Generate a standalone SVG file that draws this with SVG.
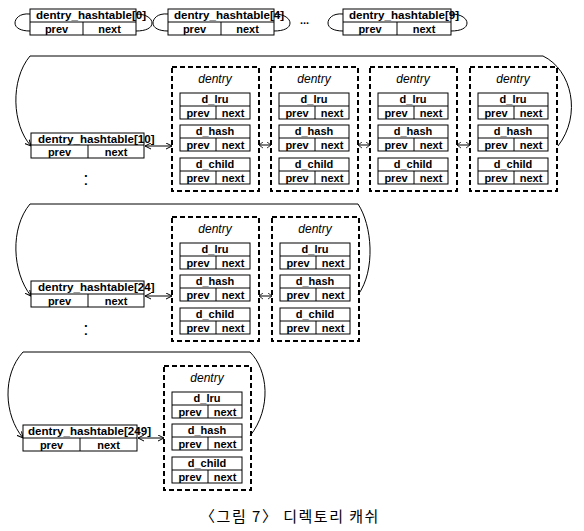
<svg xmlns="http://www.w3.org/2000/svg" width="584" height="531" viewBox="0 0 584 531">
<style>
.bx{fill:#fff;stroke:#000;stroke-width:1}
.dash{fill:none;stroke:#000;stroke-width:2;stroke-dasharray:5,3}
.t{font-family:"Liberation Sans",Arial,sans-serif;font-size:11px;font-weight:bold;fill:#000}
.h{font-size:11.6px}
.c{text-anchor:middle}
.it{font-family:"Liberation Sans",Arial,sans-serif;font-size:12px;font-style:italic;fill:#000;text-anchor:middle}
.dots{font-family:"Liberation Sans",Arial,sans-serif;font-size:19px;font-weight:normal;fill:#000;text-anchor:middle}
.ln{fill:none;stroke:#000;stroke-width:1}
.ar{fill:none;stroke:#000;stroke-width:1;marker-end:url(#ah)}
.dar{fill:none;stroke:#000;stroke-width:1;marker-end:url(#ah);marker-start:url(#ah)}
.sar{fill:none;stroke:#000;stroke-width:1;marker-end:url(#ahs);marker-start:url(#ahs)}
.cap{font-family:"Noto Sans CJK KR",sans-serif;font-size:15px;fill:#000;text-anchor:middle}
</style>
<defs>
<marker id="ah" markerWidth="7" markerHeight="7" refX="6" refY="3.5" orient="auto-start-reverse" markerUnits="userSpaceOnUse">
<path d="M0,0.5 L6,3.5 L0,6.5" fill="none" stroke="#000" stroke-width="1"/>
</marker>
<marker id="ahs" markerWidth="5" markerHeight="7" refX="4" refY="3.5" orient="auto-start-reverse" markerUnits="userSpaceOnUse">
<path d="M0,0.5 L4,3.5 L0,6.5" fill="none" stroke="#000" stroke-width="0.8"/>
</marker>
<g id="inner">
<rect class="bx" x="0" y="0" width="70" height="26"/>
<line class="ln" x1="0" y1="13" x2="70" y2="13"/>
<line class="ln" x1="36" y1="13" x2="36" y2="26"/>
<text class="t c" x="18" y="23.5">prev</text>
<text class="t c" x="53" y="23.5">next</text>
</g>
<g id="dentry">
<rect class="dash" x="0" y="0" width="87" height="124"/>
<text class="it" x="43" y="16">dentry</text>
<use href="#inner" x="8" y="26"/>
<text class="t c" x="43" y="35.5">d_lru</text>
<use href="#inner" x="8" y="58"/>
<text class="t c" x="43" y="67.5">d_hash</text>
<use href="#inner" x="8" y="91"/>
<text class="t c" x="43" y="100.5">d_child</text>
</g>
</defs>
<rect width="584" height="531" fill="#fff"/>

<g id="connectors">
<path class="ln" d="M30,14 C19,13 15,19 15,23 C15,28 21,31 30,31"/>
<path class="ln" d="M136,14 C147,14 152,19 152,23 C152,28 146,31 136,31"/>
<path class="ln" d="M168,14 C157,13 153,19 153,23 C153,28 159,31 168,31"/>
<path class="ln" d="M274,14 C285,14 290,19 290,23 C290,28 284,31 274,31"/>
<path class="ln" d="M343,14 C332,13 328,19 328,23 C328,28 334,31 343,31"/>
<path class="ln" d="M451,14 C462,14 467,19 467,23 C467,28 461,31 451,31"/>
<path class="ar" d="M558,146 C582,115 572,70 543,56 L30,56 C10,80 12,125 31,146"/>
<line class="dar" x1="145" y1="146" x2="172" y2="146"/>
<line class="sar" x1="259" y1="145" x2="271" y2="145"/>
<line class="sar" x1="358" y1="145" x2="370" y2="145"/>
<line class="sar" x1="457" y1="145" x2="470" y2="145"/>
<path class="ar" d="M358,295 C376,270 372,225 358,204 L30,204 C10,228 12,272 31,296"/>
<line class="dar" x1="145" y1="296" x2="172" y2="296"/>
<line class="sar" x1="259" y1="296" x2="272" y2="296"/>
<path class="ar" d="M250,436 C272,408 268,370 250,352 L23,352 C2,375 4,415 23,438"/>
<line class="dar" x1="138" y1="438" x2="164" y2="438"/>
</g>

<g id="ht0">
<rect class="bx" x="30" y="9" width="106" height="26"/>
<line class="ln" x1="30" y1="22" x2="136" y2="22"/>
<line class="ln" x1="83" y1="22" x2="83" y2="35"/>
<text class="t h" x="36" y="19">dentry_hashtable[0]</text>
<text class="t c" x="56.5" y="32.5">prev</text>
<text class="t c" x="109.5" y="32.5">next</text>
</g>
<g id="ht4">
<rect class="bx" x="168" y="9" width="106" height="26"/>
<line class="ln" x1="168" y1="22" x2="274" y2="22"/>
<line class="ln" x1="221" y1="22" x2="221" y2="35"/>
<text class="t h" x="174" y="19">dentry_hashtable[4]</text>
<text class="t c" x="194.5" y="32.5">prev</text>
<text class="t c" x="247.5" y="32.5">next</text>
</g>
<text class="t" x="300" y="24">...</text>
<g id="ht9">
<rect class="bx" x="343" y="9" width="108" height="26"/>
<line class="ln" x1="343" y1="22" x2="451" y2="22"/>
<line class="ln" x1="397" y1="22" x2="397" y2="35"/>
<text class="t h" x="349" y="19">dentry_hashtable[9]</text>
<text class="t c" x="370" y="32.5">prev</text>
<text class="t c" x="424" y="32.5">next</text>
</g>

<g id="ht10">
<rect class="bx" x="31" y="133" width="113" height="25"/>
<line class="ln" x1="31" y1="145" x2="144" y2="145"/>
<line class="ln" x1="88" y1="145" x2="88" y2="158"/>
<text class="t h" x="38" y="142.5">dentry_hashtable[10]</text>
<text class="t c" x="59.5" y="155.5">prev</text>
<text class="t c" x="116" y="155.5">next</text>
</g>
<text class="dots" x="86" y="185">:</text>
<use id="d1a" href="#dentry" x="172" y="67"/>
<use id="d1b" href="#dentry" x="271" y="67"/>
<use id="d1c" href="#dentry" x="370" y="67"/>
<use id="d1d" href="#dentry" x="470" y="67"/>

<g id="ht24">
<rect class="bx" x="31" y="281" width="113" height="26"/>
<line class="ln" x1="31" y1="294" x2="144" y2="294"/>
<line class="ln" x1="88" y1="294" x2="88" y2="307"/>
<text class="t h" x="38" y="291">dentry_hashtable[24]</text>
<text class="t c" x="59.5" y="304.5">prev</text>
<text class="t c" x="116" y="304.5">next</text>
</g>
<text class="dots" x="86" y="335">:</text>
<use id="d2a" href="#dentry" x="172" y="217"/>
<use id="d2b" href="#dentry" x="272" y="217"/>

<g id="ht249">
<rect class="bx" x="23" y="425" width="114" height="26"/>
<line class="ln" x1="23" y1="438" x2="137" y2="438"/>
<line class="ln" x1="80" y1="438" x2="80" y2="451"/>
<text class="t h" x="28" y="435">dentry_hashtable[249]</text>
<text class="t c" x="51.5" y="448.5">prev</text>
<text class="t c" x="108.5" y="448.5">next</text>
</g>
<use id="d3a" href="#dentry" x="164" y="366"/>

<text class="cap" x="290" y="522" letter-spacing="1.5">〈그림 7〉 디렉토리 캐쉬</text>
</svg>
